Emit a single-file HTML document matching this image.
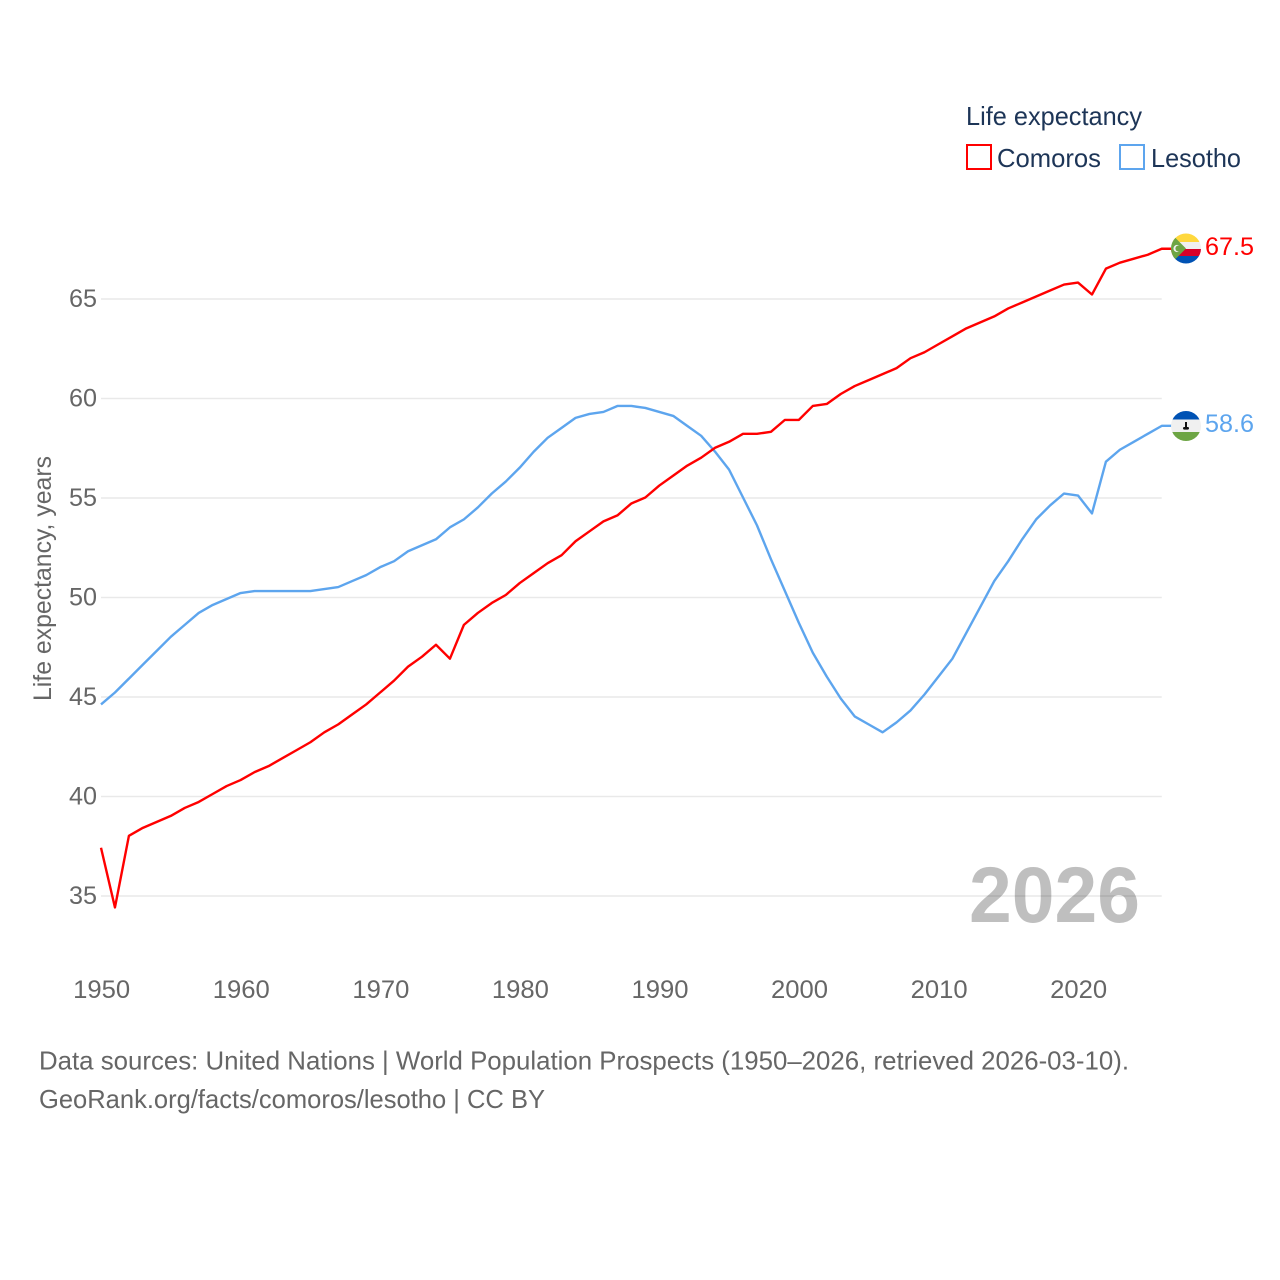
<!DOCTYPE html>
<html>
<head>
<meta charset="utf-8">
<title>Life expectancy: Comoros and Lesotho</title>
<style>
html,body{margin:0;padding:0;background:#fff;width:1280px;height:1280px;overflow:hidden}
svg{display:block;font-family:"Liberation Sans",sans-serif}
</style>
</head>
<body>
<svg id="chart" width="1280" height="1280" viewBox="0 0 1280 1280" xmlns="http://www.w3.org/2000/svg">
  <defs>
    <clipPath id="flag-clip-a"><circle cx="1186" cy="248.5" r="15"></circle></clipPath>
    <clipPath id="flag-clip-b"><circle cx="1186" cy="426" r="15"></circle></clipPath>
  </defs>
  <g id="grid"></g>
  <g id="yticks"></g>
  <g id="xticks"></g>
  <text transform="translate(51,701) rotate(-90)" font-size="25" fill="#666" textLength="245" lengthAdjust="spacingAndGlyphs">Life expectancy, years</text>
  <text x="969" y="922" font-size="79" font-weight="700" fill="#000" fill-opacity="0.25" textLength="171" lengthAdjust="spacingAndGlyphs">2026</text>
  <g id="series" transform="translate(0,-0.5)"></g>

  <g clip-path="url(#flag-clip-a)">
    <rect x="1171" y="233.5" width="30" height="8.5" fill="#ffd83d"></rect>
    <rect x="1171" y="242" width="30" height="7" fill="#f0f0f0"></rect>
    <rect x="1171" y="249" width="30" height="7" fill="#d80027"></rect>
    <rect x="1171" y="256" width="30" height="8" fill="#0052b4"></rect>
    <polygon points="1171,233.5 1186,248.5 1171,263.5" fill="#6da544"></polygon>
    <circle cx="1177" cy="248.5" r="3.6" fill="#f0f0f0"></circle>
    <circle cx="1178.4" cy="248.5" r="3" fill="#6da544"></circle>
  </g>
  <g clip-path="url(#flag-clip-b)">
    <rect x="1171" y="411" width="30" height="8.5" fill="#0052b4"></rect>
    <rect x="1171" y="419.5" width="30" height="12.5" fill="#f0f0f0"></rect>
    <rect x="1171" y="432" width="30" height="9" fill="#6da544"></rect>
    <rect x="1185" y="422" width="2" height="6" fill="#111"></rect>
    <rect x="1183" y="427" width="6" height="2.6" rx="1.2" fill="#111"></rect>
  </g>

  <text x="1205" y="255" font-size="25" fill="#ff0000" textLength="49" lengthAdjust="spacingAndGlyphs">67.5</text>
  <text x="1205" y="432" font-size="25" fill="#5da5ee" textLength="49" lengthAdjust="spacingAndGlyphs">58.6</text>

  <g>
    <text x="966" y="125" font-size="26" fill="#1d3557" textLength="176" lengthAdjust="spacingAndGlyphs">Life expectancy</text>
    <rect x="967" y="145" width="24" height="24" fill="#fff" stroke="#ff0000" stroke-width="2"></rect>
    <text x="997" y="167" font-size="26" fill="#1d3557" textLength="104" lengthAdjust="spacingAndGlyphs">Comoros</text>
    <rect x="1120" y="145" width="24" height="24" fill="#fff" stroke="#5da5ee" stroke-width="2"></rect>
    <text x="1151" y="167" font-size="26" fill="#1d3557" textLength="90" lengthAdjust="spacingAndGlyphs">Lesotho</text>
  </g>

  <text x="39" y="1069.5" font-size="26" fill="#666" textLength="1090" lengthAdjust="spacingAndGlyphs">Data sources: United Nations | World Population Prospects (1950–2026, retrieved 2026-03-10).</text>
  <text x="39" y="1108" font-size="26" fill="#666" textLength="506" lengthAdjust="spacingAndGlyphs">GeoRank.org/facts/comoros/lesotho | CC BY</text>
</svg>
<script>
const startYear = 1950;
const comoros = [37.4,34.4,38.0,38.4,38.7,39.0,39.4,39.7,40.1,40.5,40.8,41.2,41.5,41.9,42.3,42.7,43.2,43.6,44.1,44.6,45.2,45.8,46.5,47.0,47.6,46.9,48.6,49.2,49.7,50.1,50.7,51.2,51.7,52.1,52.8,53.3,53.8,54.1,54.7,55.0,55.6,56.1,56.6,57.0,57.5,57.8,58.2,58.2,58.3,58.9,58.9,59.6,59.7,60.2,60.6,60.9,61.2,61.5,62.0,62.3,62.7,63.1,63.5,63.8,64.1,64.5,64.8,65.1,65.4,65.7,65.8,65.2,66.5,66.8,67.0,67.2,67.5];
const lesotho = [44.6,45.2,45.9,46.6,47.3,48.0,48.6,49.2,49.6,49.9,50.2,50.3,50.3,50.3,50.3,50.3,50.4,50.5,50.8,51.1,51.5,51.8,52.3,52.6,52.9,53.5,53.9,54.5,55.2,55.8,56.5,57.3,58.0,58.5,59.0,59.2,59.3,59.6,59.6,59.5,59.3,59.1,58.6,58.1,57.3,56.4,55.0,53.6,51.9,50.3,48.7,47.2,46.0,44.9,44.0,43.6,43.2,43.7,44.3,45.1,46.0,46.9,48.2,49.5,50.8,51.8,52.9,53.9,54.6,55.2,55.1,54.2,56.8,57.4,57.8,58.2,58.6];
const yTickValues = [35,40,45,50,55,60,65];
const xTickValues = [1950,1960,1970,1980,1990,2000,2010,2020];

const NS = 'http://www.w3.org/2000/svg';
function xScale(year){ return 101 + (year - 1950) * (1078 - 101) / 70; }
function yScale(v){ return 896 - (v - 35) * (896 - 299) / 30; }
function make(tag, parent){ const el = document.createElementNS(NS, tag); parent.appendChild(el); return el; }

const gridG = document.getElementById('grid');
const yG = document.getElementById('yticks');
const xG = document.getElementById('xticks');
const seriesG = document.getElementById('series');

yTickValues.forEach(function(v){
  const line = make('line', gridG);
  
  
  line.setAttribute('x1', xScale(1950));
  line.setAttribute('x2', xScale(2026));
  line.setAttribute('y1', yScale(v));
  line.setAttribute('y2', yScale(v));
  line.setAttribute('stroke', '#e9e9e9');
  line.setAttribute('stroke-width', '1.5');
  const t = make('text', yG);
  
  
  t.setAttribute('x', 69);
  t.setAttribute('y', yScale(v) + 8);
  t.setAttribute('font-size', '25');
  t.setAttribute('fill', '#666');
  t.setAttribute('textLength', '28');
  t.setAttribute('lengthAdjust', 'spacingAndGlyphs');
  t.textContent = v;
});

xTickValues.forEach(function(y){
  const t = make('text', xG);
  
  
  t.setAttribute('x', xScale(y) - 27.8);
  t.setAttribute('y', 998);
  t.setAttribute('font-size', '25');
  t.setAttribute('fill', '#666');
  t.setAttribute('textLength', '57');
  t.setAttribute('lengthAdjust', 'spacingAndGlyphs');
  t.textContent = y;
});

function drawSeries(values, color, name){
  const pts = values.map(function(v, i){ return xScale(startYear + i).toFixed(2) + ',' + yScale(v).toFixed(2); });
  const lastY = yScale(values[values.length - 1]).toFixed(2);
  pts.push('1172,' + lastY);
  const p = make('polyline', seriesG);
  
  
  p.setAttribute('points', pts.join(' '));
  p.setAttribute('fill', 'none');
  p.setAttribute('stroke', color);
  p.setAttribute('stroke-width', '2.4');
  p.setAttribute('stroke-linejoin', 'round');
}
drawSeries(lesotho, '#5da5ee', 'line-lesotho');
drawSeries(comoros, '#ff0000', 'line-comoros');
</script>
</body>
</html>
